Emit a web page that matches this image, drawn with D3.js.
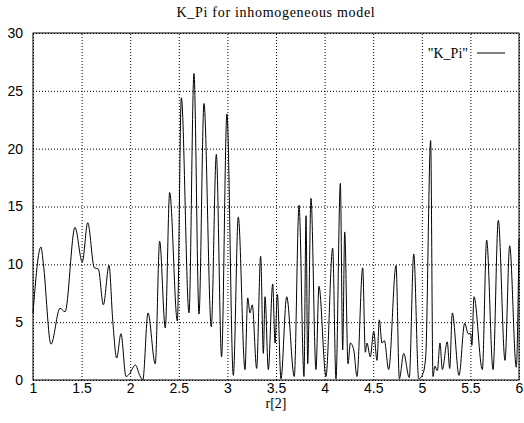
<!DOCTYPE html>
<html>
<head>
<meta charset="utf-8">
<script src="https://cdn.jsdelivr.net/npm/d3@7"></script>
<style>
  body { margin: 0; background: #fff; }
  svg { display: block; font-family: "Liberation Serif", "DejaVu Serif", serif; }
  .grid line { stroke: #000; stroke-dasharray: 1,2; stroke-width: 1; }
  .grid text { font-size: 14px; fill: #000; }
</style>
</head>
<body>
<svg id="chart" width="524" height="423"></svg>
<script>
// K_Pi: peaks and troughs
var rValues = [
  1.000, 1.082, 1.106, 1.185, 1.278, 1.330, 1.432, 1.507, 1.563, 1.631,
  1.672, 1.724, 1.782, 1.820, 1.861, 1.905, 1.957, 1.990, 2.053, 2.098,
  2.130, 2.183, 2.258, 2.303, 2.361, 2.406, 2.485, 2.526, 2.605, 2.656,
  2.708, 2.759, 2.834, 2.886, 2.940, 2.995, 3.061, 3.112, 3.181, 3.209,
  3.232, 3.256, 3.301, 3.342, 3.370, 3.387, 3.421, 3.466, 3.490, 3.514,
  3.551, 3.610, 3.688, 3.737, 3.788, 3.809, 3.826, 3.860, 3.911, 3.942,
  4.014, 4.083, 4.117, 4.162, 4.186, 4.207, 4.241, 4.265, 4.300, 4.333,
  4.392, 4.419, 4.436, 4.470, 4.505, 4.539, 4.563, 4.590, 4.615, 4.659,
  4.735, 4.769, 4.814, 4.871, 4.917, 4.968, 5.010, 5.040, 5.091, 5.115,
  5.135, 5.160, 5.187, 5.211, 5.262, 5.287, 5.314, 5.383, 5.441, 5.478,
  5.503, 5.515, 5.537, 5.623, 5.667, 5.733, 5.787, 5.856, 5.904, 5.972,
  6.000
];
var kpiValues = [
  5.8, 11.5, 10.1, 3.1, 6.2, 5.9, 13.2, 10.2, 13.6, 9.7,
  9.6, 6.5, 9.9, 5.2, 1.9, 4.0, 0.3, 0.5, 1.3, 0.4,
  0.0, 5.8, 1.4, 12.0, 4.5, 16.2, 5.1, 24.4, 5.8, 26.5,
  5.7, 23.9, 4.6, 19.5, 2.0, 23.0, 0.4, 14.1, 0.9, 7.1,
  5.8, 6.5, 1.0, 10.7, 2.3, 7.2, 0.9, 8.3, 3.2, 7.4,
  0.1, 7.2, 0.3, 15.1, 0.3, 14.2, 1.4, 15.7, 0.9, 8.1,
  0.3, 11.4, 0.1, 17.0, 2.6, 12.8, 1.4, 3.2, 2.6, 0.3,
  9.7, 2.4, 3.2, 2.0, 4.2, 1.7, 5.2, 3.2, 3.4, 0.9,
  9.9, 0.1, 2.3, 0.2, 10.9, 0.1, 0.5, 2.0, 20.7, 0.3,
  1.2, 0.8, 3.2, 0.9, 3.3, 1.0, 5.8, 0.4, 4.9, 4.0,
  4.0, 3.0, 7.2, 0.9, 12.1, 0.9, 13.8, 1.7, 11.6, 1.1,
  12.2
];
var xTicks = [1, 1.5, 2, 2.5, 3, 3.5, 4, 4.5, 5, 5.5, 6];
var yTicks = [0, 5, 10, 15, 20, 25, 30];

var svg = d3.select("#chart");
var margin = {left: 33, right: 5, top: 33, bottom: 43};
var width = +svg.attr("width") - margin.left - margin.right;
var height = +svg.attr("height") - margin.top - margin.bottom;

var x = d3.scaleLinear().domain([1, 6]).range([0, width]);
var y = d3.scaleLinear().domain([0, 30]).range([height, 0]);

var g = svg.append("g")
    .attr("transform", "translate(" + margin.left + "," + margin.top + ")");

g.append("g")
    .attr("class", "grid")
    .attr("transform", "translate(0," + height + ")")
    .call(d3.axisBottom(x)
        .tickValues(xTicks)
        .tickSize(-height)
        .tickPadding(3)
        .tickFormat(d3.format("")))
    .call(function(a) { a.select(".domain").remove(); });

g.append("g")
    .attr("class", "grid")
    .call(d3.axisLeft(y)
        .tickValues(yTicks)
        .tickSize(-width)
        .tickPadding(10))
    .call(function(a) { a.select(".domain").remove(); });

g.append("rect")
    .attr("width", width)
    .attr("height", height)
    .attr("fill", "none")
    .attr("stroke", "#000");

var line = d3.line()
    .x(function(d, i) { return x(rValues[i]); })
    .y(function(d) { return y(d); })
    .curve(d3.curveMonotoneX);

g.append("path")
    .datum(kpiValues)
    .attr("fill", "none")
    .attr("stroke", "#000")
    .attr("stroke-width", 1)
    .attr("d", line);

// legend
g.append("text")
    .attr("x", 435)
    .attr("y", 25)
    .attr("text-anchor", "end")
    .attr("font-size", 14)
    .text("\"K_Pi\"");
g.append("line")
    .attr("x1", 444).attr("x2", 472)
    .attr("y1", 20).attr("y2", 20)
    .attr("stroke", "#000");

svg.append("text")
    .attr("x", margin.left + width / 2)
    .attr("y", 17)
    .attr("text-anchor", "middle")
    .attr("font-size", 14)
    .attr("letter-spacing", "0.7px")
    .text("K_Pi for inhomogeneous model");

svg.append("text")
    .attr("x", margin.left + width / 2)
    .attr("y", 408)
    .attr("text-anchor", "middle")
    .attr("font-size", 14)
    .text("r[2]");
</script>
</body>
</html>
